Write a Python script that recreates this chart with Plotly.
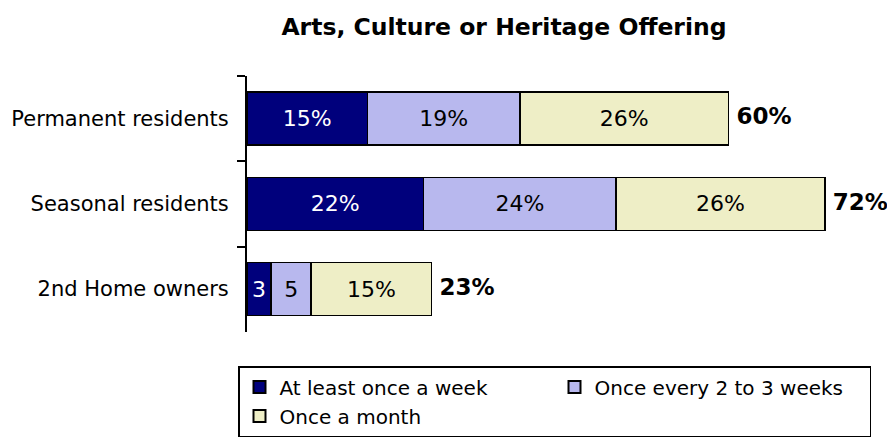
import plotly.graph_objects as go

categories = ["Permanent residents", "Seasonal residents", "2nd Home owners"]
series_names = ["At least once a week", "Once every 2 to 3 weeks", "Once a month"]
weekly = [15, 22, 3]
biweekly = [19, 24, 5]
monthly = [26, 26, 15]
weekly_labels = ["15%", "22%", "3"]
biweekly_labels = ["19%", "24%", "5"]
monthly_labels = ["26%", "26%", "15%"]
totals = [60, 72, 23]
total_labels = ["60%", "72%", "23%"]
title_text = "Arts, Culture or Heritage Offering"

colors = ["#00007c", "#b8b8ee", "#eeeec6"]
text_colors = ["white", "black", "black"]
FONT = "DejaVu Sans"

# page body has an 8px default margin; figure sized/offset to compensate
W, H = 887, 433

fig = go.Figure()
for name, vals, labels, col, tc in zip(
    series_names,
    [weekly, biweekly, monthly],
    [weekly_labels, biweekly_labels, monthly_labels],
    colors,
    text_colors,
):
    fig.add_trace(go.Bar(
        y=categories, x=vals, name=name, orientation="h",
        marker=dict(color=col, line=dict(color="black", width=1.5)),
        text=labels, textposition="inside", insidetextanchor="middle",
        textangle=0, constraintext="none",
        textfont=dict(family=FONT, size=22, color=tc),
        hoverinfo="skip",
    ))

fig.add_trace(go.Scatter(
    y=categories, x=totals, mode="text", text=[" " + t for t in total_labels],
    textposition="middle right", showlegend=False, cliponaxis=False,
    textfont=dict(family=FONT, size=23, color="black", weight="bold"),
    hoverinfo="skip",
))

fig.update_layout(
    width=W, height=H,
    barmode="stack", bargap=0.38,
    paper_bgcolor="white", plot_bgcolor="white",
    margin=dict(l=239, r=6, t=68, b=109, autoexpand=False),
    font=dict(family=FONT, size=21, color="black"),
    title=dict(text="<b>" + title_text + "</b>", x=496 / W, xanchor="center",
               xref="container", y=1 - 19 / H, yanchor="middle", yref="container",
               font=dict(family=FONT, size=23.5, color="black")),
    xaxis=dict(range=[0, 80], visible=False, fixedrange=True, automargin=False),
    yaxis=dict(
        range=[2.503, -0.5], showline=True, linecolor="black", linewidth=2,
        ticks="outside", tickson="boundaries", ticklen=8, tickwidth=2,
        tickcolor="black", showgrid=False, ticklabelstandoff=12,
        automargin=False,
        tickfont=dict(family=FONT, size=21, color="black"),
    ),
    legend=dict(
        orientation="h", xref="container", yref="container",
        x=230 / W, y=1 - 358 / H, xanchor="left", yanchor="top",
        bordercolor="black", borderwidth=1.5, bgcolor="white",
        entrywidth=270, entrywidthmode="pixels", traceorder="normal",
        font=dict(family=FONT, size=20, color="black"),
        itemsizing="constant", tracegroupgap=0,
    ),
)

fig.write_html("out.html")
